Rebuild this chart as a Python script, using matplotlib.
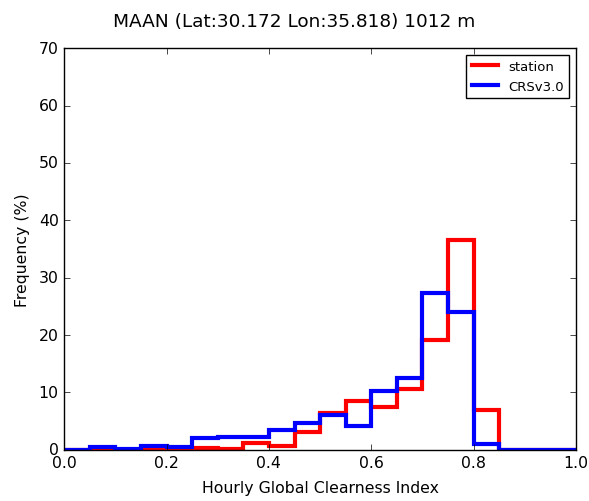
import numpy as np
import matplotlib
matplotlib.use("Agg")
import matplotlib.pyplot as plt

plt.style.use("classic")

edges = np.round(np.arange(0, 1.0001, 0.05), 2)
station = [0, 0, 0, 0.1, 0.1, 0.3, 0.1, 1.2, 0.7, 3.1, 6.4, 8.5, 7.5, 10.6, 19.2, 36.5, 7.0, 0, 0, 0]
crs = [0, 0.5, 0.1, 0.6, 0.5, 2.0, 2.3, 2.3, 3.4, 4.6, 6.1, 4.2, 10.2, 12.6, 27.4, 24.0, 1.0, 0, 0, 0]

fig = plt.figure(figsize=(5.89, 5.02), dpi=100, facecolor="white")
ax = fig.add_axes([0.109, 0.102, 0.869, 0.8])
ax.stairs(station, edges, color="red", linewidth=3, label="station", baseline=0)
ax.stairs(crs, edges, color="blue", linewidth=3, label="CRSv3.0", baseline=0)
ax.set_xlim(0, 1.0)
ax.set_ylim(0, 70)
ax.set_xlabel("Hourly Global Clearness Index", fontsize=11.3, labelpad=7)
ax.set_ylabel("Frequency (%)", fontsize=11.3, labelpad=6)
ax.tick_params(labelsize=11.3)
fig.suptitle("MAAN (Lat:30.172 Lon:35.818) 1012 m", fontsize=13.3, y=0.975)
leg = ax.legend(loc="upper right", fontsize=9.5, handlelength=2.0)
fig.savefig("out.png", dpi=100, facecolor="white")
